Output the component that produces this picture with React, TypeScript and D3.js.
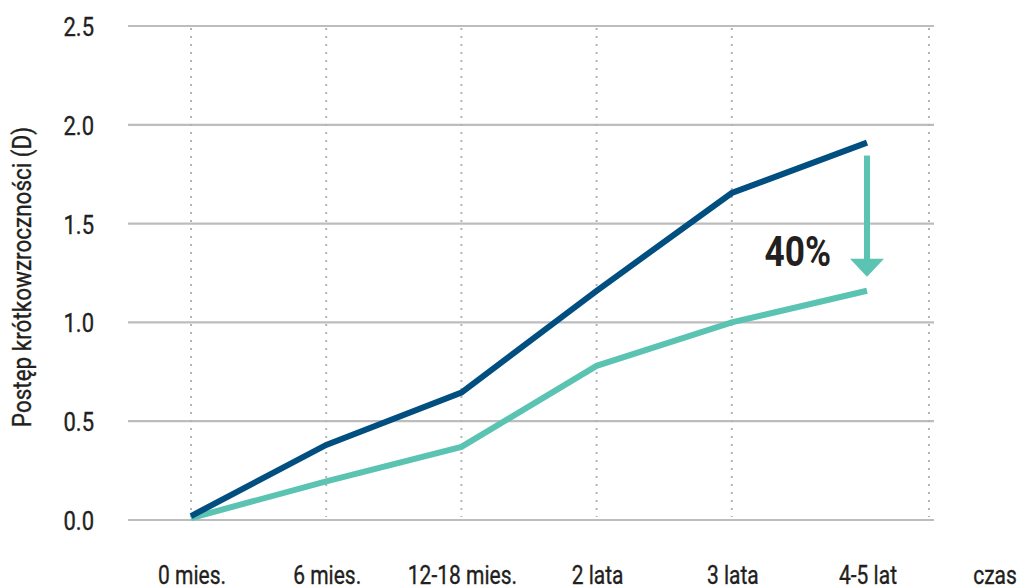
import React from "react";
import * as d3 from "d3";

const categories = ["0 mies.", "6 mies.", "12-18 mies.", "2 lata", "3 lata", "4-5 lat"];
const seriesDark = [0.02, 0.38, 0.645, 1.16, 1.655, 1.91];
const seriesTeal = [0.01, 0.195, 0.37, 0.78, 1.0, 1.16];
const yTicks = [0, 0.5, 1.0, 1.5, 2.0, 2.5];
const yTitle = "Postęp krótkowzroczności (D)";
const xTitle = "czas";
const annotation = "40%";

const W = 1017;
const H = 588;
const FONT = "Roboto, 'DejaVu Sans Condensed', sans-serif";
const SX = 0.84;
const INK = "#231f20";

type TxtProps = {
  x: number;
  y: number;
  anchor?: "start" | "middle" | "end";
  size: number;
  weight?: string | number;
  rotate?: number;
  sx?: number;
  stroke?: number;
  children: React.ReactNode;
};

function Txt({ x, y, anchor = "middle", size, weight = "normal", rotate = 0, sx = SX, stroke = 0.35, children }: TxtProps) {
  return (
    <text
      transform={`translate(${x},${y}) rotate(${rotate}) scale(${sx},1)`}
      textAnchor={anchor}
      fontSize={size}
      fontWeight={weight}
      fill={INK}
      stroke={INK}
      strokeWidth={stroke}
    >
      {children}
    </text>
  );
}

export default function App() {
  const x = d3.scalePoint<string>().domain(categories).range([191, 867]);
  const y = d3.scaleLinear().domain([0, 2.5]).range([520, 26]);
  const gridLeft = 128;
  const gridRight = 934;
  const rightDotted = 929;

  const line = d3
    .line<number>()
    .x((_, i) => x(categories[i]) as number)
    .y((d) => y(d));

  const lastX = x(categories[categories.length - 1]) as number;
  const arrowTop = y(seriesDark[seriesDark.length - 1]) + 13;
  const arrowTip = y(seriesTeal[seriesTeal.length - 1]) - 14;
  const headH = 18;
  const headW = 17;

  const verticals = [...categories.slice(0, -1).map((c) => x(c) as number), rightDotted];

  return (
    <svg
      width={W}
      height={H}
      style={{ position: "absolute", left: 0, top: 0, background: "#fff" }}
      fontFamily={FONT}
    >
      {yTicks.map((t) => (
        <line key={"g" + t} x1={gridLeft} x2={gridRight} y1={y(t)} y2={y(t)} stroke="#bdbdbd" strokeWidth={2.2} />
      ))}
      {verticals.map((vx, i) => (
        <line
          key={"v" + i}
          x1={vx}
          x2={vx}
          y1={y(2.5) + 2}
          y2={y(0) - 3}
          stroke="#b3b3b3"
          strokeWidth={2}
          strokeDasharray="2 6"
        />
      ))}
      {yTicks.map((t) => (
        <Txt key={"t" + t} x={94} y={y(t) + 10} anchor="end" size={25} sx={0.88}>
          {d3.format(".1f")(t)}
        </Txt>
      ))}
      <Txt x={31} y={(y(0) + y(2.5)) / 2 + 4} rotate={-90} size={25} sx={0.9}>
        {yTitle}
      </Txt>
      {categories.map((c) => (
        <Txt key={c} x={(x(c) as number) + 1} y={584} size={25}>
          {c}
        </Txt>
      ))}
      <Txt x={995} y={584} size={25}>
        {xTitle}
      </Txt>
      <path d={line(seriesTeal) || ""} fill="none" stroke="#5bc3b1" strokeWidth={6} strokeLinejoin="miter" />
      <path d={line(seriesDark) || ""} fill="none" stroke="#004f80" strokeWidth={6} strokeLinejoin="miter" />
      <line x1={lastX} x2={lastX} y1={arrowTop} y2={arrowTip - headH + 1} stroke="#5bc3b1" strokeWidth={6} />
      <path
        d={`M${lastX - headW},${arrowTip - headH} L${lastX + headW},${arrowTip - headH} L${lastX},${arrowTip} Z`}
        fill="#5bc3b1"
      />
      <Txt x={831} y={266} anchor="end" size={43} weight="bold" sx={0.82} stroke={0}>
        {annotation}
      </Txt>
    </svg>
  );
}
